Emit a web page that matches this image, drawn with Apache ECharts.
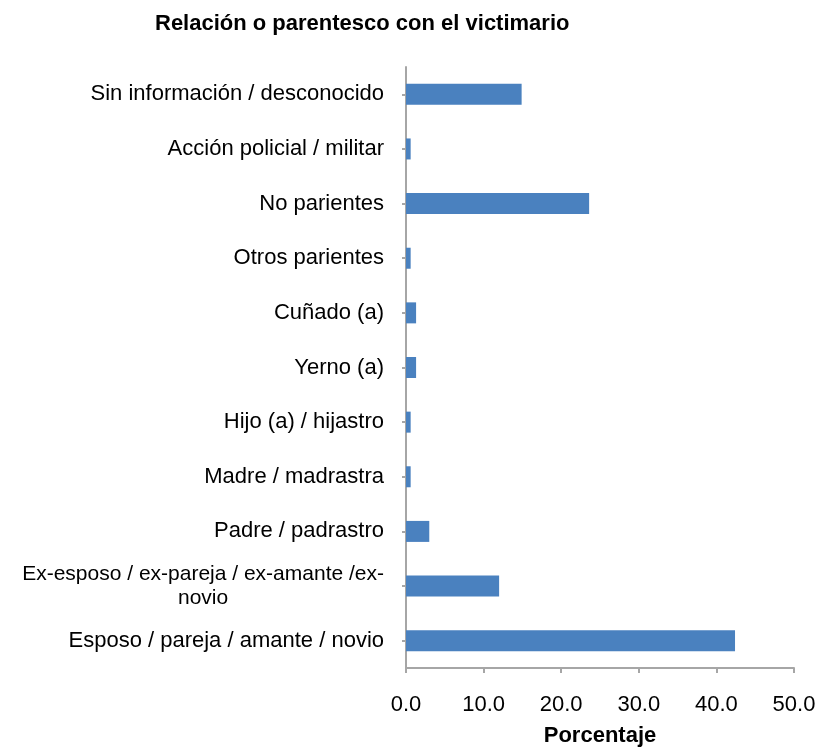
<!DOCTYPE html>
<html>
<head>
<meta charset="utf-8">
<script src="https://cdn.jsdelivr.net/npm/echarts@6/dist/echarts.min.js"></script>
<style>
  html, body { margin: 0; padding: 0; background: #fff; }
  #chart { width: 820px; height: 748px; }
</style>
</head>
<body>
<div id="chart"></div>
<script>
// categorias de arriba hacia abajo
const categories = [
  "Sin información / desconocido",
  "Acción policial / militar",
  "No parientes",
  "Otros parientes",
  "Cuñado (a)",
  "Yerno (a)",
  "Hijo (a) / hijastro",
  "Madre / madrastra",
  "Padre / padrastro",
  "Ex-esposo / ex-pareja / ex-amante /ex-|novio",
  "Esposo / pareja / amante / novio"
];
const values = [14.9, 0.6, 23.6, 0.6, 1.3, 1.3, 0.6, 0.6, 3.0, 12.0, 42.4];
const xTicks = [0, 10, 20, 30, 40, 50];

const myChart = echarts.init(document.getElementById("chart"));
const FONT = "Liberation Sans";

const option = {
  animation: false,
  title: {
    text: "Relación o parentesco con el victimario",
    left: 150,
    top: 8,
    textStyle: { fontFamily: FONT, fontSize: 22, fontWeight: "bold", color: "#000" }
  },
  grid: {
    left: 406,
    right: 26,
    top: 67,
    bottom: 80,
    outerBoundsMode: "none",
    containLabel: false
  },
  xAxis: {
    type: "value",
    min: xTicks[0],
    max: xTicks[xTicks.length - 1],
    interval: 10,
    name: "Porcentaje",
    nameLocation: "middle",
    nameGap: 57,
    nameTextStyle: { fontFamily: FONT, fontSize: 22, fontWeight: "bold", color: "#000" },
    axisLine: { show: true, lineStyle: { color: "#A6A6A6", width: 2 } },
    axisTick: { show: true, length: 5, lineStyle: { color: "#A6A6A6", width: 2 } },
    axisLabel: {
      margin: 26,
      fontFamily: FONT,
      fontSize: 22,
      color: "#000",
      formatter: (v) => v.toFixed(1)
    },
    splitLine: { show: false }
  },
  yAxis: {
    type: "category",
    data: categories,
    inverse: true,
    axisLine: { show: true, lineStyle: { color: "#A6A6A6", width: 2 } },
    axisTick: { show: true, alignWithLabel: true, length: 4, lineStyle: { color: "#A6A6A6", width: 2 } },
    axisLabel: {
      margin: 22,
      color: "#000",
      formatter: (v) => {
        const parts = v.split("|");
        if (parts.length === 1) return "{a|" + v + "}";
        return "{c|" + parts[0] + "}\n{b|" + parts[1] + "}";
      },
      rich: {
        a: { fontFamily: FONT, fontSize: 22, color: "#000", lineHeight: 24 },
        c: { fontFamily: FONT, fontSize: 21, color: "#000", lineHeight: 24 },
        b: { fontFamily: FONT, fontSize: 21, color: "#000", lineHeight: 24, align: "center" }
      }
    }
  },
  series: [
    {
      type: "bar",
      data: values,
      barWidth: 21,
      itemStyle: { color: "#4A81BF" }
    }
  ]
};
myChart.setOption(option);
</script>
</body>
</html>
